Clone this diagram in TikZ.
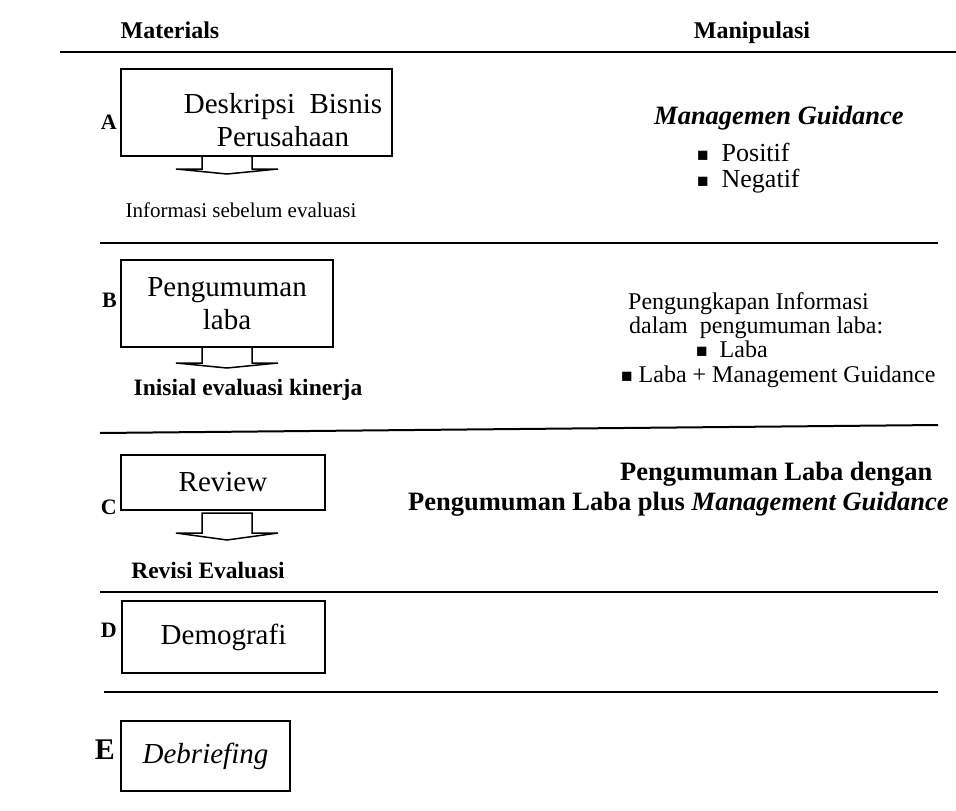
\documentclass[tikz,border=0pt]{standalone}
\usepackage{fontspec}
\setmainfont{LiberationSerif}[Extension=.ttf, UprightFont=*-Regular, BoldFont=*-Bold, ItalicFont=*-Italic, BoldItalicFont=*-BoldItalic]
\usepackage{tikz}
\usetikzlibrary{positioning}

\newcommand{\sqb}{{\fontsize{19}{19}\selectfont ■}}

\begin{document}
\begin{tikzpicture}[x=1pt, y=-1pt,
        box/.style={draw, line width=1.6pt, inner sep=0pt, align=center, font=\fontsize{29}{33}\selectfont},
        tag/.style={anchor=east, inner sep=0pt, font=\bfseries\fontsize{22}{22}\selectfont},
        rule/.style={line width=2pt},
        blockarrow/.style={line width=1.5pt, line join=miter},
        note/.style={inner sep=0pt, font=\fontsize{24}{27}\selectfont},
        head/.style={inner sep=0pt, anchor=base, font=\bfseries\fontsize{24}{24}\selectfont}]
        \useasboundingbox (0,0) rectangle (956,811);

        % Header
        \node [head] (materials) at (170,38) {Materials};
        \node [head] (manipulasi) at (752,38) {Manipulasi};
        \coordinate (top1) at (60,52);
        \coordinate (top2) at (956,52);
        \draw [rule, line width=2.4pt] (top1) -- (top2);

        % Section A
        \node [box, minimum width=271, minimum height=87] (boxA) at (256.5,112.5) {};
        \node [inner sep=0pt, align=center, font=\fontsize{29}{33}\selectfont] (textA) at (283,120) {Deskripsi\ \ Bisnis\\Perusahaan};
        \node [tag] (tagA) at (117,122) {A};
        \draw [blockarrow] (202,0 |- boxA.south) -- (202,169) -- (176,169) -- (227,174) -- (278,169) -- (252,169) -- (252,0 |- boxA.south);
        \node [note, font=\fontsize{21}{21}\selectfont] (infoA) at (241,210) {Informasi sebelum evaluasi};

        \node [inner sep=0pt, anchor=west, font=\bfseries\itshape\fontsize{26.5}{26.5}\selectfont] (mg) at (654,118) {Managemen Guidance};
        \node [inner sep=0pt, anchor=west, font=\fontsize{26}{26}\selectfont] (pos) at (697,152) {\sqb\ \ Positif};
        \node [inner sep=0pt, anchor=west, font=\fontsize{26}{26}\selectfont] (neg) at (697,181) {\sqb\ \ Negatif};

        \coordinate (l1a) at (100,243);
        \coordinate (l1b) at (938,243);
        \draw [rule] (l1a) -- (l1b);

        % Section B
        \node [box, minimum width=212, minimum height=87] (boxB) at (227,303.5) {Pengumuman\\laba};
        \node [tag] (tagB) at (117,300) {B};
        \draw [blockarrow] (202,0 |- boxB.south) -- (202,363) -- (176,363) -- (227,368) -- (278,363) -- (252,363) -- (252,0 |- boxB.south);
        \node [note, font=\bfseries\fontsize{23.5}{23.5}\selectfont] (infoB) at (248,390) {Inisial evaluasi kinerja};

        \node [note, anchor=base west] (pi1) at (628,309) {Pengungkapan Informasi};
        \node [note, anchor=base west] (pi2) at (629,333) {dalam\ \ pengumuman laba:};
        \node [note, anchor=base west] (pi3) at (696,357) {\sqb\ \ Laba};
        \node [note, anchor=base west] (pi4) at (621,382) {\sqb\ Laba + Management Guidance};

        \coordinate (l2a) at (100,433);
        \coordinate (l2b) at (938,425);
        \draw [rule] (l2a) -- (l2b);

        % Section C
        \node [box, minimum width=204, minimum height=55] (boxC) at (223,482.5) {Review};
        \node [tag] (tagC) at (117,507) {C};
        \draw [blockarrow] (202,513) -- (202,533) -- (176,533) -- (227,540) -- (278,533) -- (252,533) -- (252,513) -- cycle;
        \node [note, font=\bfseries\fontsize{23.5}{23.5}\selectfont] (infoC) at (208,570) {Revisi Evaluasi};

        \node [note, anchor=west, font=\bfseries\fontsize{26.5}{26.5}\selectfont] (pl1) at (620,474) {Pengumuman Laba dengan};
        \node [note, anchor=west, font=\bfseries\fontsize{26.5}{26.5}\selectfont] (pl2) at (408,504) {Pengumuman Laba plus \textit{Management Guidance}};

        \coordinate (l3a) at (100,592);
        \coordinate (l3b) at (938,592);
        \draw [rule] (l3a) -- (l3b);

        % Section D
        \node [box, minimum width=203, minimum height=72] (boxD) at (223.5,637) {Demografi};
        \node [tag] (tagD) at (117,630) {D};

        \coordinate (l4a) at (104,692);
        \coordinate (l4b) at (938,692);
        \draw [rule] (l4a) -- (l4b);

        % Section E
        \node [box, minimum width=169, minimum height=70, font=\itshape\fontsize{29}{33}\selectfont] (boxE) at (205.5,756) {Debriefing};
        \node [tag, font=\bfseries\fontsize{30}{30}\selectfont] (tagE) at (115,750) {E};
    \end{tikzpicture}
\end{document}
